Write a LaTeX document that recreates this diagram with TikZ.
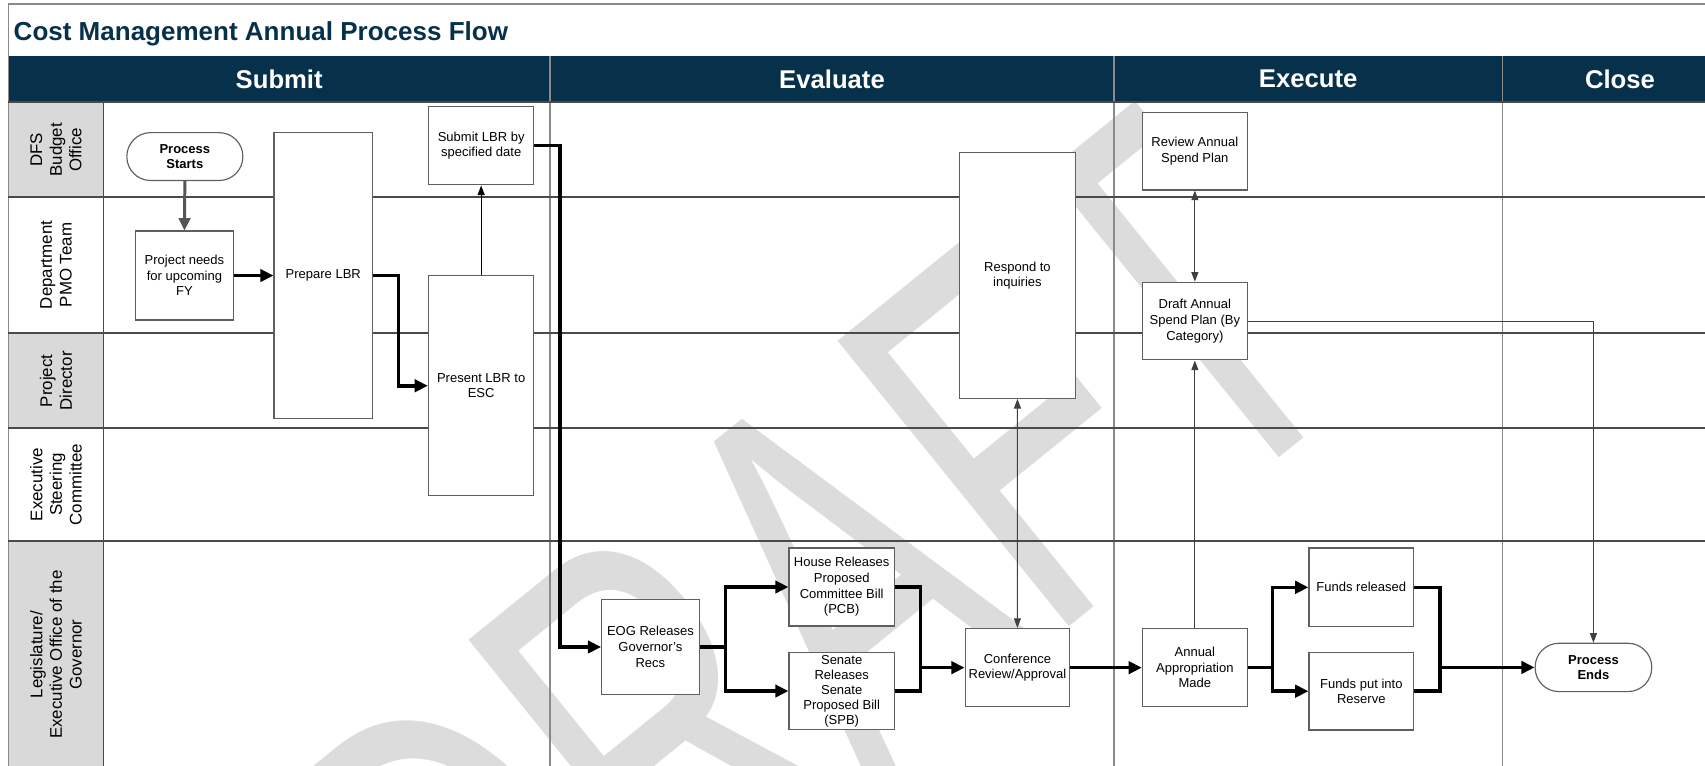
\documentclass[tikz,border=0pt]{standalone}
\usepackage{fontspec}
\setmainfont{Liberation Sans}
\usetikzlibrary{arrows.meta}
\definecolor{navy}{HTML}{07304A}
\definecolor{wmgrey}{HTML}{DCDCDC}
\definecolor{lanegrey}{HTML}{D9D9D9}
\definecolor{boxline}{HTML}{5F5F5F}
\definecolor{laneline}{HTML}{4A4A4A}
\definecolor{divline}{HTML}{8A8A8A}
\definecolor{thingrey}{HTML}{404040}
\definecolor{arrgrey}{HTML}{555555}
\def\uxd{0.021748cm}
\begin{document}
\begin{tikzpicture}[x=0.021748cm, y=-0.021748cm,
  pbox/.style={draw=boxline, line width=0.65pt, fill=white, inner sep=0pt, align=center, font=\fontsize{7.4}{8.9}\selectfont},
  term/.style={pbox, rounded corners=13.5pt, font=\bfseries\fontsize{7.4}{8.9}\selectfont},
  lanelbl/.style={rotate=90, align=center, inner sep=0pt, font=\fontsize{9.6}{11.2}\selectfont},
  hdr/.style={text=white, inner sep=0pt, font=\bfseries\fontsize{14.6}{17}\selectfont},
  thk/.style={line width=2pt, draw=black},
  thkarr/.style={thk, -{Triangle[length=7.5pt,width=7pt]}},
  gryarr/.style={line width=1.7pt, draw=arrgrey, -{Triangle[length=7pt,width=6.5pt]}},
  thn/.style={line width=0.6pt, draw=thingrey},
  thnarr/.style={thn, -{Triangle[length=5.5pt,width=4pt]}},
  thnboth/.style={thn, {Triangle[length=5.5pt,width=4pt]}-{Triangle[length=5.5pt,width=4pt]}},
  laneln/.style={line width=1.1pt, draw=laneline},
  divln/.style={line width=0.7pt, draw=divline}
]
\useasboundingbox (0,0) rectangle (1568,704.4);
\clip (0,0) rectangle (1568,704.4);

% watermark
\node[rotate=39, anchor=base, text=wmgrey, inner sep=0pt, font=\fontsize{304}{304}\selectfont] (wmark) at (855,681) {\scalebox{0.64}[1]{DRAFT}};

% title row and header
\fill[white] (7.7,3.7) rectangle (1600,51.2);
\fill[navy] (7.7,51.2) rectangle (1600,94.1);
\node[anchor=base west, inner sep=0pt, text=navy, font=\bfseries\fontsize{14.8}{17}\selectfont] (title) at (12.3,36.8) {Cost Management Annual Process Flow};

% lane label cells
\fill[lanegrey] (7.7,94.1) rectangle (95.2,180.9);
\fill[lanegrey] (7.7,306.5) rectangle (95.2,394);
\fill[lanegrey] (7.7,497.2) rectangle (95.2,707);

% lines
\draw[divln] (7.7,3.7) -- (1600,3.7);
\draw[divln] (7.7,3.7) -- (7.7,707);
\draw[divln] (505.8,51.2) -- (505.8,707);
\draw[divln] (1024.5,51.2) -- (1024.5,707);
\draw[divln] (1381.6,51.2) -- (1381.6,707);
\draw[laneln] (7.7,94.1) -- (1600,94.1);
\draw[laneln] (7.7,180.9) -- (1600,180.9);
\draw[laneln] (7.7,306.5) -- (1600,306.5);
\draw[laneln] (7.7,394) -- (1600,394);
\draw[laneln] (7.7,497.2) -- (1600,497.2);
\draw[laneln] (95.2,94.1) -- (95.2,707);

% header labels
\node[hdr] (hsub) at (256.75,72.65) {Submit};
\node[hdr] (heva) at (765.15,72.65) {Evaluate};
\node[hdr] (hexe) at (1203,72.65) {Execute};
\node[hdr] (hclo) at (1489.8,72.65) {Close};

% lane labels
\node[lanelbl] (l1) at (51.45,137.65) {DFS\\Budget\\Office};
\node[lanelbl] (l2) at (51.45,243.7) {Department\\PMO Team};
\node[lanelbl] (l3) at (51.45,350.25) {Project\\Director};
\node[lanelbl] (l4) at (51.45,445.6) {Executive\\Steering\\Committee};
\node[lanelbl] (l5) at (51.45,602) {Legislature/\\Executive Office of the\\Governor};

% process nodes
\node[term, minimum width=106.7*\uxd, minimum height=44*\uxd] (start) at (170,144) {Process\\Starts};
\node[pbox, minimum width=89.7*\uxd, minimum height=81.8*\uxd] (needs) at (169.65,253.4) {Project needs\\for upcoming\\FY};
\node[pbox, minimum width=90.6*\uxd, minimum height=262.7*\uxd] (prep) at (297.3,253.35) {Prepare LBR};
\node[pbox, minimum width=97*\uxd, minimum height=72*\uxd] (submit) at (442.5,134) {Submit LBR by\\specified date};
\node[pbox, minimum width=97*\uxd, minimum height=202.5*\uxd] (present) at (442.5,354.75) {Present LBR to\\ESC};
\node[pbox, minimum width=107*\uxd, minimum height=225.9*\uxd] (respond) at (935.7,253.35) {Respond to\\inquiries};
\node[pbox, minimum width=96.5*\uxd, minimum height=71.1*\uxd] (review) at (1098.85,139.15) {Review Annual\\Spend Plan};
\node[pbox, minimum width=96.5*\uxd, minimum height=71.4*\uxd] (draft) at (1098.85,295.3) {Draft Annual\\Spend Plan (By\\Category)};
\node[pbox, minimum width=89.7*\uxd, minimum height=88*\uxd] (eog) at (598.15,595) {EOG Releases\\Governor's\\Recs};
\node[pbox, minimum width=96.9*\uxd, minimum height=71.7*\uxd] (house) at (774.05,539.85) {House Releases\\Proposed\\Committee Bill\\(PCB)};
\node[pbox, minimum width=96.9*\uxd, minimum height=71*\uxd, font=\fontsize{7.4}{8.5}\selectfont] (senate) at (774.05,635.5) {Senate\\Releases\\Senate\\Proposed Bill\\(SPB)};
\node[pbox, minimum width=96.1*\uxd, minimum height=72*\uxd] (conf) at (935.65,614) {Conference\\Review/Approval};
\node[pbox, minimum width=96.5*\uxd, minimum height=72*\uxd] (annual) at (1098.85,614) {Annual\\Appropriation\\Made};
\node[pbox, minimum width=96.2*\uxd, minimum height=72.3*\uxd] (fundsrel) at (1251.9,540.15) {Funds released};
\node[pbox, minimum width=96.2*\uxd, minimum height=71.3*\uxd] (reserve) at (1251.9,635.65) {Funds put into\\Reserve};
\node[term, minimum width=107.2*\uxd, minimum height=44.4*\uxd] (pend) at (1465.4,613.8) {Process\\Ends};

% connectors
\draw[gryarr] (start.south) -- (needs.north);
\draw[thkarr] (needs.east) -- (needs.east -| prep.west);
\draw[thkarr] (prep.east) -- ++(23.4,0) |- (present.west);
\draw[line width=0.6pt, draw=black, -{Triangle[length=5.5pt,width=4pt]}] (present.north) -- (submit.south);
\draw[thkarr] (submit.east) -- ++(23.6,0) |- (eog.west);
\coordinate (s1) at (667,595);
\draw[thk] (eog.east) -- (s1);
\draw[thkarr] (s1) |- (house.west);
\draw[thkarr] (s1) |- (senate.west);
\coordinate (m1) at (846.5,614);
\draw[thk] (house.east) -| (m1);
\draw[thk] (senate.east) -| (m1);
\draw[thkarr] (m1) -- (conf.west);
\draw[thkarr] (conf.east) -- (annual.west);
\coordinate (s2) at (1170.2,614);
\draw[thk] (annual.east) -- (s2);
\draw[thkarr] (s2) |- (fundsrel.west);
\draw[thkarr] (s2) |- (reserve.west);
\coordinate (m2) at (1324.5,613.8);
\draw[thk] (fundsrel.east) -| (m2);
\draw[thk] (reserve.east) -| (m2);
\draw[thkarr] (m2) -- (pend.west);
\draw[thnboth] (respond.south) -- (conf.north);
\draw[thnboth] (review.south) -- (draft.north);
\draw[thnarr] (annual.north) -- (draft.south);
\draw[thnarr] (draft.east) -| (pend.north);
\end{tikzpicture}
\end{document}
